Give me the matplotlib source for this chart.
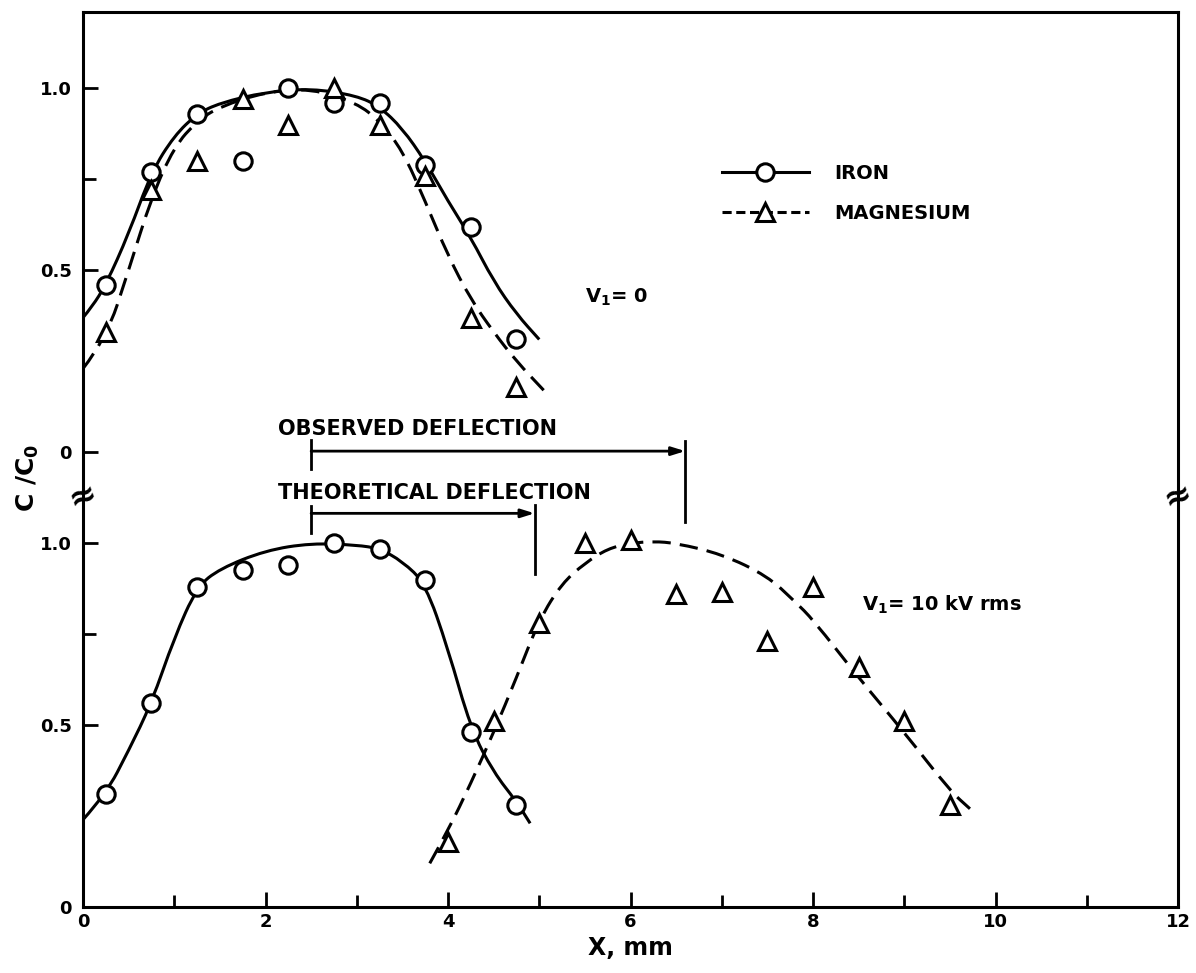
import numpy as np
import matplotlib
matplotlib.use('Agg')
from matplotlib import pyplot as plt
from matplotlib.path import Path
from matplotlib.patches import PathPatch
from matplotlib.lines import Line2D

# ---- data (C/C0 per panel) ----
# upper panel, V1 = 0
top_x = [0.25, 0.75, 1.25, 1.75, 2.25, 2.75, 3.25, 3.75, 4.25, 4.75]
top_iron = [0.46, 0.77, 0.93, 0.80, 1.00, 0.96, 0.96, 0.79, 0.62, 0.31]
top_mg = [0.33, 0.72, 0.80, 0.97, 0.90, 1.00, 0.90, 0.76, 0.37, 0.18]

# faired curves, upper panel
top_iron_cx = [0, 0.1, 0.25, 0.5, 0.75, 1.0, 1.25, 1.5, 2.0, 2.5, 3.0, 3.25, 3.5, 3.75, 4.0, 4.25, 4.5, 4.75, 5.0]
top_iron_cy = [0.37, 0.40, 0.46, 0.60, 0.77, 0.87, 0.93, 0.96, 0.99, 1.0, 0.98, 0.95, 0.89, 0.80, 0.69, 0.59, 0.47, 0.38, 0.31]
top_mg_cx = [0, 0.25, 0.5, 0.75, 1.0, 1.25, 1.5, 2.0, 2.5, 3.0, 3.25, 3.5, 3.75, 4.0, 4.25, 4.5, 4.75, 5.05]
top_mg_cy = [0.23, 0.31, 0.50, 0.70, 0.84, 0.91, 0.95, 0.99, 1.0, 0.96, 0.91, 0.83, 0.69, 0.54, 0.42, 0.33, 0.25, 0.17]

# lower panel, V1 = 10 kV rms
bot_iron_x = [0.25, 0.75, 1.25, 1.75, 2.25, 2.75, 3.25, 3.75, 4.25, 4.75]
bot_iron = [0.31, 0.56, 0.88, 0.925, 0.94, 1.00, 0.985, 0.90, 0.48, 0.28]
bot_mg_x = [4.0, 4.5, 5.0, 5.5, 6.0, 6.5, 7.0, 7.5, 8.0, 8.5, 9.0, 9.5]
bot_mg = [0.18, 0.51, 0.78, 1.00, 1.01, 0.86, 0.865, 0.73, 0.88, 0.66, 0.51, 0.28]

bot_iron_cx = [0, 0.25, 0.5, 0.75, 1.0, 1.25, 1.5, 2.0, 2.5, 3.0, 3.25, 3.5, 3.75, 4.0, 4.25, 4.5, 4.75, 4.9]
bot_iron_cy = [0.24, 0.31, 0.43, 0.56, 0.74, 0.88, 0.93, 0.98, 1.0, 0.995, 0.985, 0.95, 0.89, 0.71, 0.49, 0.37, 0.29, 0.23]
bot_mg_cx = [3.8, 4.0, 4.25, 4.5, 4.75, 5.0, 5.25, 5.5, 5.75, 6.0, 6.25, 6.5, 7.0, 7.5, 7.8, 8.0, 8.5, 9.0, 9.5, 9.72]
bot_mg_cy = [0.12, 0.21, 0.34, 0.48, 0.63, 0.79, 0.89, 0.945, 0.985, 1.0, 1.005, 1.0, 0.97, 0.91, 0.84, 0.79, 0.63, 0.48, 0.32, 0.27]

# deflection markers (x, mm)
defl_start = 2.5
obs_end = 6.6
theo_end = 4.95

top_offset = 1.25   # upper panel zero sits 1.25 units above lower panel zero

LW = 2.2
INK = 'black'


def smooth_path(xs, ys):
    # quadratic bezier through midpoints, drawn by matplotlib
    pts = list(zip(xs, ys))
    verts = [pts[0]]
    codes = [Path.MOVETO]
    for i in range(1, len(pts) - 1):
        mid = ((pts[i][0] + pts[i + 1][0]) / 2, (pts[i][1] + pts[i + 1][1]) / 2)
        verts += [pts[i], mid]
        codes += [Path.CURVE3, Path.CURVE3]
    verts.append(pts[-1])
    codes.append(Path.LINETO)
    return Path(verts, codes)


def draw_curve(ax, xs, ys, dashed=False, off=0.0):
    ys = [y + off for y in ys]
    ls = (0, (6, 3)) if dashed else '-'
    p = PathPatch(smooth_path(xs, ys), fill=False, lw=LW, ec=INK, ls=ls, capstyle='butt')
    ax.add_patch(p)


fig = plt.figure(figsize=(11.96, 9.73), dpi=100)
ax = fig.add_axes([83 / 1196, 1 - 907 / 973, (1178 - 83) / 1196, (907 - 12) / 973])

# curves
draw_curve(ax, top_iron_cx, top_iron_cy, off=top_offset)
draw_curve(ax, top_mg_cx, top_mg_cy, dashed=True, off=top_offset)
draw_curve(ax, bot_iron_cx, bot_iron_cy)
draw_curve(ax, bot_mg_cx, bot_mg_cy, dashed=True)

mk_c = dict(marker='o', ms=12.5, mfc='white', mec=INK, mew=2.2, ls='none', zorder=5)
mk_t = dict(marker='^', ms=13.5, mfc='white', mec=INK, mew=2.2, ls='none', zorder=5)
ax.plot(top_x, np.array(top_iron) + top_offset, **mk_c)
ax.plot(top_x, np.array(top_mg) + top_offset, **mk_t)
ax.plot(bot_iron_x, bot_iron, **mk_c)
ax.plot(bot_mg_x, bot_mg, **mk_t)

# deflection bars
y_obs = 1.253
y_theo = 1.082
ax.annotate('', xy=(obs_end, y_obs), xytext=(defl_start, y_obs),
            arrowprops=dict(arrowstyle='-|>,head_length=0.8,head_width=0.25', lw=2, color=INK, shrinkA=0, shrinkB=0))
ax.annotate('', xy=(theo_end, y_theo), xytext=(defl_start, y_theo),
            arrowprops=dict(arrowstyle='-|>,head_length=0.8,head_width=0.25', lw=2, color=INK, shrinkA=0, shrinkB=0))
ax.plot([defl_start, defl_start], [y_obs - 0.05, y_obs + 0.03], color=INK, lw=2)
ax.plot([defl_start, defl_start], [y_theo - 0.055, y_theo + 0.02], color=INK, lw=2)
ax.plot([obs_end, obs_end], [1.058, 1.28], color=INK, lw=2)
ax.plot([theo_end, theo_end], [0.915, 1.105], color=INK, lw=2)

txt = dict(fontsize=15, fontweight='bold', color=INK, va='center', ha='left')
ax.text(2.14, 1.315, 'OBSERVED DEFLECTION', **txt)
ax.text(2.14, 1.137, 'THEORETICAL DEFLECTION', **txt)
ax.text(5.5, 1.676, 'V$_\\mathbf{1}$= 0', fontsize=14, fontweight='bold', va='center', ha='left')
ax.text(8.54, 0.83, 'V$_\\mathbf{1}$= 10 kV rms', fontsize=14, fontweight='bold', va='center', ha='left')

# legend
h_iron = Line2D([], [], color=INK, lw=LW, marker='o', ms=12.5, mfc='white', mec=INK, mew=2.2)
h_mg = Line2D([], [], color=INK, lw=LW, ls=(0, (3, 1.5)), marker='^', ms=13.5, mfc='white', mec=INK, mew=2.2)
leg = ax.legend([h_iron, h_mg], ['IRON', 'MAGNESIUM'], loc='upper left',
                bbox_to_anchor=(712 / 1196, 1 - 154 / 973), bbox_transform=fig.transFigure,
                frameon=False, numpoints=1, handlelength=4.5, handletextpad=1.3,
                labelspacing=1.1, borderpad=0, prop=dict(size=14, weight='bold'))

# axes
ax.set_xlim(0, 12)
ax.set_ylim(0, 2.46)
ax.set_xticks([0, 2, 4, 6, 8, 10, 12])
ax.set_xticks([1, 3, 5, 7, 9, 11], minor=True)
ax.set_yticks([0, 0.5, 1.0, 1.25, 1.75, 2.25])
ax.set_yticklabels(['0', '0.5', '1.0', '0', '0.5', '1.0'])
ax.set_yticks([0.75, 2.0], minor=True)
ax.tick_params(which='both', direction='in', width=2, labelsize=13)
ax.tick_params(which='major', length=11)
ax.tick_params(which='minor', length=9)
ax.tick_params(axis='x', pad=4)
ax.tick_params(axis='y', pad=8)
for lab in ax.get_xticklabels() + ax.get_yticklabels():
    lab.set_fontweight('bold')
for s in ax.spines.values():
    s.set_linewidth(2.2)

ax.set_xlabel('X, mm', fontsize=17, fontweight='bold', labelpad=4)
fig.text(28 / 1196, 1 - 478 / 973, 'C /C$_\\mathbf{0}$', rotation=90, fontsize=18,
         fontweight='bold', ha='center', va='center')

# axis break marks
for xa in (0, 1):
    ax.text(xa, 1.13, '\u2248', transform=ax.get_yaxis_transform(), fontsize=24,
            fontweight='bold', ha='center', va='center', rotation=20, clip_on=False)

fig.savefig('out.png', dpi=100)
